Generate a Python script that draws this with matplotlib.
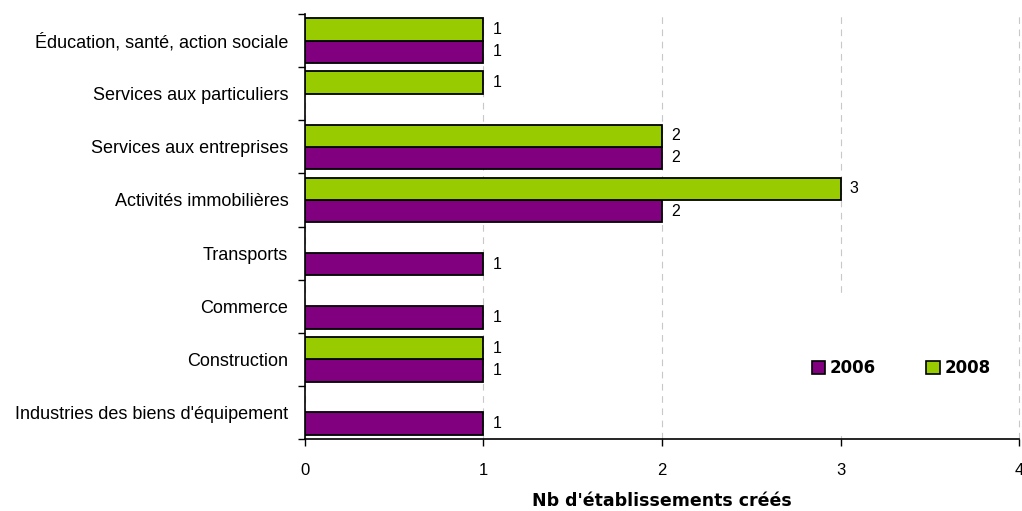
import numpy as np
import matplotlib.pyplot as plt
from matplotlib.patches import Patch, Rectangle

categories = ["Éducation, santé, action sociale", "Services aux particuliers",
              "Services aux entreprises", "Activités immobilières", "Transports",
              "Commerce", "Construction", "Industries des biens d'équipement"]
vals_2006 = [1, 0, 2, 2, 1, 1, 1, 1]
vals_2008 = [1, 1, 2, 3, 0, 0, 1, 0]
series_names = ["2006", "2008"]
x_ticks = [0, 1, 2, 3, 4]

purple = '#800080'
green = '#99cc00'

plt.rcParams['font.family'] = ['Liberation Sans', 'DejaVu Sans']

fig = plt.figure(figsize=(10.22, 5.11), dpi=100)
ax = fig.add_axes([0.2984, 0.1409, 0.6987, 0.8317])

y = np.arange(len(categories))
h = 0.42
for vals, off, col in [(vals_2006, 0.21, purple), (vals_2008, -0.21, green)]:
    for yi, v in zip(y, vals):
        if v == 0:
            continue
        ax.barh(yi + off, v, height=h, color=col, edgecolor='black', linewidth=1.3, zorder=3)
        ax.text(v + 0.05, yi + off, str(v), va='center', ha='left', fontsize=11.5, zorder=4)

ax.set_ylim(len(categories) - 0.5, -0.5)
ax.set_xlim(0, 4)
ax.set_xticks(x_ticks)
ax.set_xticklabels([str(t) for t in x_ticks], fontsize=12)
ax.set_yticks(np.arange(len(categories) + 1) - 0.5, minor=True)
ax.set_yticks(y)
ax.set_yticklabels(categories, fontsize=13)
ax.tick_params(axis='y', which='major', length=0, pad=12)
ax.tick_params(axis='y', which='minor', length=5, width=1, direction='out')
ax.tick_params(axis='x', length=5, width=1, direction='out', pad=12)

ax.spines['top'].set_visible(False)
ax.spines['right'].set_visible(False)
ax.spines['left'].set_linewidth(1.2)
ax.spines['bottom'].set_linewidth(1.2)

ax.grid(axis='x', color='#c8c8c8', linestyle=(0, (6, 5)), linewidth=0.8, zorder=0)
ax.set_axisbelow(True)
for gl in ax.get_xgridlines():
    gl.set_clip_on(False)

ax.set_xlabel("Nb d'établissements créés", fontsize=12.5, fontweight='bold',
              family='DejaVu Sans', labelpad=10)

# white legend area as in the original
ax.add_patch(Rectangle((0.69, 0.008), 0.30, 0.33, transform=ax.transAxes,
                       facecolor='white', edgecolor='none', zorder=1))
handles = [Patch(facecolor=purple, edgecolor='black', linewidth=1.2),
           Patch(facecolor=green, edgecolor='black', linewidth=1.2)]
ax.legend(handles, series_names, ncol=2, loc='center', bbox_to_anchor=(0.835, 0.167),
          frameon=False, handlelength=0.8, handleheight=0.8, handletextpad=0.3,
          columnspacing=3.0, prop={'family': 'DejaVu Sans', 'weight': 'bold', 'size': 12})

fig.savefig('out.png', dpi=100)
